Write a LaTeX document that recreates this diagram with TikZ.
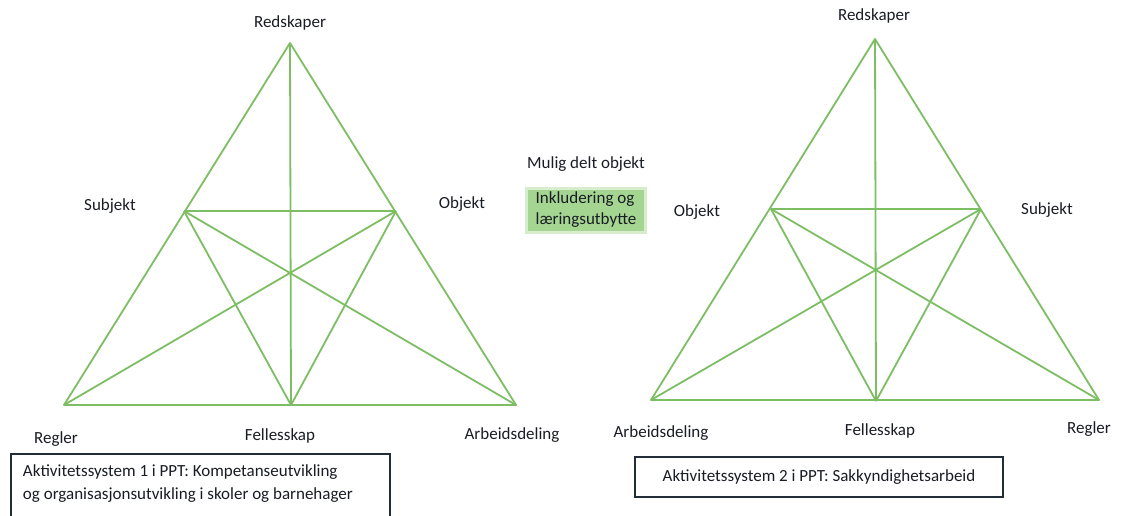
\documentclass[tikz,border=0pt]{standalone}
\usepackage{fontspec}
\setmainfont{Carlito}
\usepackage{tikz}
\definecolor{linegreen}{RGB}{125,190,100}
\definecolor{objgreen}{RGB}{165,214,145}
\definecolor{textdark}{RGB}{25,28,36}
\definecolor{framedark}{RGB}{35,45,55}

\begin{document}
\begin{tikzpicture}[
    x=1pt, y=-1pt,
    lbl/.style={font=\fontsize{17}{23}\selectfont, text=textdark, inner sep=0pt},
    edge/.style={draw=linegreen, line width=1.8pt, line join=round},
    sysbox/.style={draw=framedark, line width=2pt, font=\fontsize{17}{23}\selectfont, text=textdark, align=flush left},
    objbox/.style={fill=objgreen, draw=objgreen!45, line width=3pt, font=\fontsize{17}{21}\selectfont, text=textdark, align=left, minimum width=119, minimum height=44, inner xsep=4pt}
]
    \useasboundingbox (0,0) rectangle (1124,516);

    % activity system 1
    \coordinate (a1) at (290,43);
    \coordinate (bl1) at (64,405);
    \coordinate (br1) at (516,405);
    \coordinate (l1) at (184,211);
    \coordinate (r1) at (396,211);
    \coordinate (m1) at (291,405);

    \draw[edge] (a1) -- (bl1) -- (br1) -- cycle;
    \draw[edge] (l1) -- (r1);
    \draw[edge] (a1) -- (m1);
    \draw[edge] (l1) -- (m1);
    \draw[edge] (r1) -- (m1);
    \draw[edge] (l1) -- (br1);
    \draw[edge] (r1) -- (bl1);

    \node[lbl] (tool1) at (290,23) {Redskaper};
    \node[lbl] (subj1) at (110,206) {Subjekt};
    \node[lbl] (obj1) at (462,204) {Objekt};
    \node[lbl] (rule1) at (56,439) {Regler};
    \node[lbl] (comm1) at (280,436) {Fellesskap};
    \node[lbl] (div1) at (512,435) {Arbeidsdeling};

    \node[sysbox, anchor=north west, text width=355, inner xsep=12pt, inner ysep=11pt] (sys1) at (10,453)
        {Aktivitetssystem 1 i PPT: Kompetanseutvikling\\og organisasjonsutvikling i skoler og barnehager\rule[-14pt]{0pt}{0pt}};

    % shared object
    \node[lbl] (shared) at (586,164) {Mulig delt objekt};
    \node[objbox] (outcome) at (586,210) {Inkludering og\\læringsutbytte};

    % activity system 2
    \coordinate (a2) at (875,39);
    \coordinate (bl2) at (651,400);
    \coordinate (br2) at (1099,400);
    \coordinate (l2) at (771,209);
    \coordinate (r2) at (981,209);
    \coordinate (m2) at (876,401);

    \draw[edge] (a2) -- (bl2) -- (br2) -- cycle;
    \draw[edge] (l2) -- (r2);
    \draw[edge] (a2) -- (m2);
    \draw[edge] (l2) -- (m2);
    \draw[edge] (r2) -- (m2);
    \draw[edge] (l2) -- (br2);
    \draw[edge] (r2) -- (bl2);

    \node[lbl] (tool2) at (874,16) {Redskaper};
    \node[lbl] (obj2) at (697,212) {Objekt};
    \node[lbl] (subj2) at (1047,210) {Subjekt};
    \node[lbl] (div2) at (661,433) {Arbeidsdeling};
    \node[lbl] (comm2) at (880,431) {Fellesskap};
    \node[lbl] (rule2) at (1089,429) {Regler};

    \node[sysbox, minimum width=368, minimum height=40, align=center] (sys2) at (819,477)
        {Aktivitetssystem 2 i PPT: Sakkyndighetsarbeid};
\end{tikzpicture}
\end{document}
